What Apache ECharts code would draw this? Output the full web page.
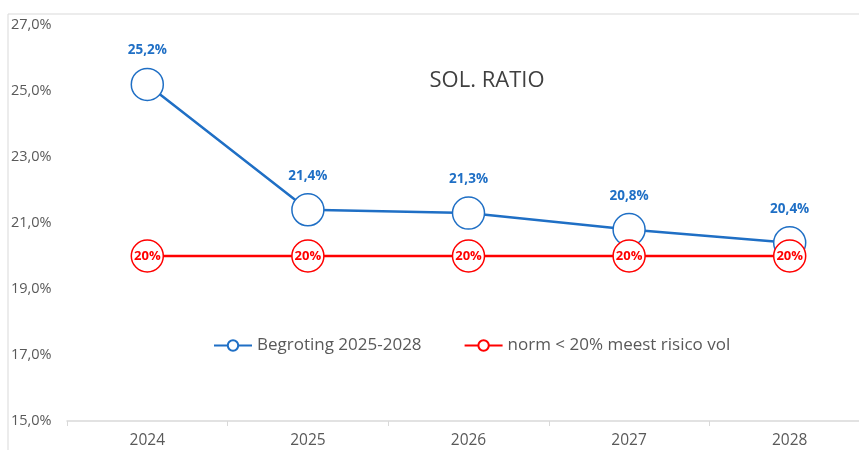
<!DOCTYPE html>
<html>
<head>
<meta charset="utf-8">
<script src="https://cdn.jsdelivr.net/npm/echarts@6/dist/echarts.min.js"></script>
<style>
  html, body { margin: 0; padding: 0; background: #fff; }
  #chart { width: 859px; height: 450px; }
</style>
</head>
<body>
<div id="chart"></div>
<script>
const years = ['2024', '2025', '2026', '2027', '2028'];
const begroting = [25.2, 21.4, 21.3, 20.8, 20.4];
const norm = [20, 20, 20, 20, 20];
const yTicks = { min: 15, max: 27, interval: 2 };

const fontFam = '"Open Sans", "Noto Sans", sans-serif';
const blue = '#1F6FC5';
const red = '#FF0000';
const grey = '#595959';

const fmt = v => v.toFixed(1).replace('.', ',') + '%';

const chart = echarts.init(document.getElementById('chart'));
const option = {
  backgroundColor: '#fff',
  animation: false,
  textStyle: { fontFamily: fontFam },
  graphic: [
    {
      type: 'rect',
      shape: { x: 8, y: 14, width: 900, height: 500 },
      style: { fill: 'none', stroke: '#d9d9d9', lineWidth: 1 },
      silent: true, z: -10
    }
  ],
  title: {
    text: 'SOL. RATIO',
    left: 482, top: 65,
    textAlign: 'center',
    textStyle: { fontSize: 22, fontWeight: 'normal', color: '#404040', fontFamily: fontFam }
  },
  legend: {
    top: 332, left: 208,
    itemWidth: 38, itemHeight: 13, itemGap: 42,
    textStyle: { fontSize: 17, color: grey, fontFamily: fontFam },
    data: ['Begroting 2025-2028', 'norm < 20% meest risico vol']
  },
  grid: { left: 67, width: 803, top: 25, bottom: 29, outerBoundsMode: 'none', containLabel: false },
  xAxis: {
    type: 'category',
    data: years,
    axisLine: { lineStyle: { color: '#d9d9d9', width: 1.5 } },
    axisTick: { show: true, lineStyle: { color: '#d9d9d9' }, length: 5 },
    axisLabel: { color: grey, fontSize: 15.5, margin: 12 }
  },
  yAxis: {
    type: 'value',
    min: yTicks.min, max: yTicks.max, interval: yTicks.interval,
    splitLine: { show: false },
    axisLine: { show: false },
    axisTick: { show: false },
    axisLabel: { color: grey, fontSize: 14.5, align: 'left', margin: 56, formatter: fmt }
  },
  series: [
    {
      name: 'Begroting 2025-2028',
      type: 'line',
      data: begroting,
      symbol: 'circle', symbolSize: 32,
      lineStyle: { color: blue, width: 2.5 },
      itemStyle: { color: '#fff', borderColor: blue, borderWidth: 1.5 },
      label: {
        show: true, position: 'top', distance: 10,
        color: blue, fontWeight: 'bold', fontSize: 13.5,
        formatter: p => fmt(p.value)
      },
      z: 2
    },
    {
      name: 'norm < 20% meest risico vol',
      type: 'line',
      data: norm,
      symbol: 'circle', symbolSize: 32,
      lineStyle: { color: red, width: 2.5 },
      itemStyle: { color: '#fff', borderColor: red, borderWidth: 1.5 },
      label: {
        show: true, position: 'inside',
        color: red, fontWeight: 'bold', fontSize: 13,
        formatter: p => p.value + '%'
      },
      z: 3
    }
  ]
};
chart.setOption(option);
</script>
</body>
</html>
